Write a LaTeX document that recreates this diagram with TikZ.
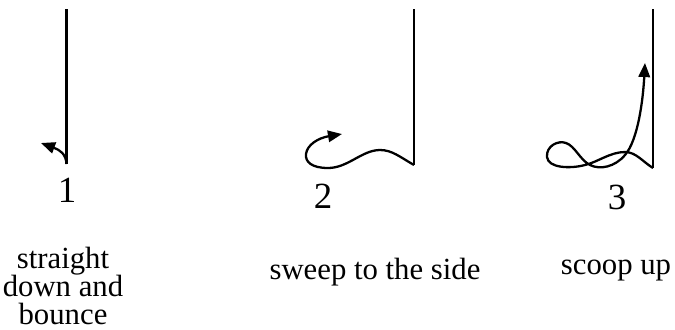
\documentclass[tikz,border=0pt]{standalone}
\usepackage{fontspec}
\setmainfont{Liberation Serif}
\usetikzlibrary{arrows.meta}

\begin{document}
\begin{tikzpicture}[x=0.02cm,y=-0.02cm, line width=1.3pt,
    num/.style={font=\fontsize{21}{24}\selectfont},
    caption/.style={font=\fontsize{17.5}{16}\selectfont, align=center, inner sep=1pt},
    tip/.style={-{Triangle[length=8pt,width=6.5pt]}}]
      \useasboundingbox (0,0) rectangle (675,329);
      % 1
      \draw (66.5,9) -- (66.5,164);
      \draw[tip] (66.5,164) .. controls (66,154) and (60,150) .. (41,143);
      % 2
      \draw (414,9) -- (414,165);
      \draw[tip] (414,165) .. controls (400,157) and (392,150) .. (380,150)
        .. controls (362,150) and (348,168) .. (328,168)
        .. controls (312,168) and (305,162) .. (306,154)
        .. controls (307,145) and (318,138) .. (342,134);
      % 3
      \draw (653,9) -- (653,168);
      \draw[tip] (653,168) .. controls (643,162) and (636,152) .. (625,152)
        .. controls (610,152) and (598,162) .. (585,165)
        .. controls (570,169) and (548,168) .. (547,157)
        .. controls (546,146) and (558,140) .. (566,143)
        .. controls (575,146) and (580,160) .. (590,165)
        .. controls (600,170) and (615,167) .. (625,155)
        .. controls (638,140) and (643,100) .. (645,63);
      \node[num] (n1) at (67,190) {1};
      \node[num] (n2) at (323,196) {2};
      \node[num] (n3) at (617,197) {3};
      \node[caption] (c1) at (63,286) {straight\\down and\\bounce};
      \node[caption] (c2) at (375,272) {sweep to the side};
      \node[caption] (c3) at (616,271) {scoop up};
    \end{tikzpicture}
\end{document}
